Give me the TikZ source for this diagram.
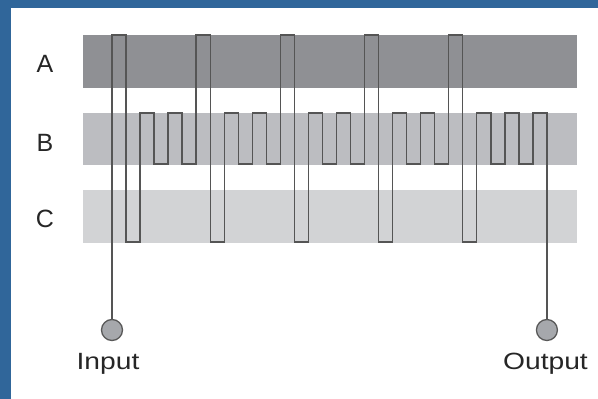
\documentclass[tikz,border=0pt]{standalone}
\usepackage{fontspec}
\setmainfont{Liberation Sans}
\definecolor{frameblue}{HTML}{30669A}
\definecolor{bandA}{HTML}{8F9094}
\definecolor{bandB}{HTML}{BCBDC1}
\definecolor{bandC}{HTML}{D2D3D5}
\definecolor{wirecol}{HTML}{555555}
\definecolor{portfill}{HTML}{A6A8AC}
\begin{document}
\begin{tikzpicture}[x=1pt,y=-1pt,
  wire/.style={draw=wirecol,line width=1.4pt},
  port/.style={circle,draw=black!65,line width=1.3pt,fill=portfill,minimum size=21pt,inner sep=0pt},
  rowlabel/.style={font=\fontsize{25}{30}\selectfont,anchor=base,text=black!85},
  portlabel/.style={font=\fontsize{23.5}{28}\selectfont,anchor=base,xscale=1.2,text=black!85}]
  % page and frame
  \useasboundingbox (0,0) rectangle (598,399);
  \fill[white] (0,0) rectangle (598,399);
  \fill[frameblue] (0,0) rectangle (598,8);
  \fill[frameblue] (0,0) rectangle (11,399);
  % the three bands
  \fill[bandA] (83,35) rectangle (577,88);
  \fill[bandB] (83,113) rectangle (577,165);
  \fill[bandC] (83,190) rectangle (577,243);
  % row labels
  \node[rowlabel] (la) at (45,72) {A};
  \node[rowlabel] (lb) at (45,151) {B};
  \node[rowlabel] (lc) at (45,227) {C};
  % terminals
  \node[port] (in) at (112,330) {};
  \node[port] (out) at (546.93,330) {};
  \node[portlabel] (inlab) at (108,369) {Input};
  \node[portlabel] (outlab) at (545.5,369) {Output};
  % levels of the meander
  \def\yA{35}\def\yC{242}\def\yBt{113}\def\yBb{164}\def\dx{14.03}
  % meandering wire from input to output
  \draw[wire] (in.north) -- (112,\yA)
    \foreach \k [evaluate=\k as \xa using 112+6*14.03*\k] in {0,...,3} {
      -| ({\xa+\dx},\yC) -| ({\xa+2*\dx},\yBt) -| ({\xa+3*\dx},\yBb)
      -| ({\xa+4*\dx},\yBt) -| ({\xa+5*\dx},\yBb) -| ({\xa+6*\dx},\yA)
    }
    -| ({112+25*\dx},\yC) -| ({112+26*\dx},\yBt) -| ({112+27*\dx},\yBb)
    -| ({112+28*\dx},\yBt) -| ({112+29*\dx},\yBb) -| ({112+30*\dx},\yBt)
    -| (out.north);
\end{tikzpicture}
\end{document}
